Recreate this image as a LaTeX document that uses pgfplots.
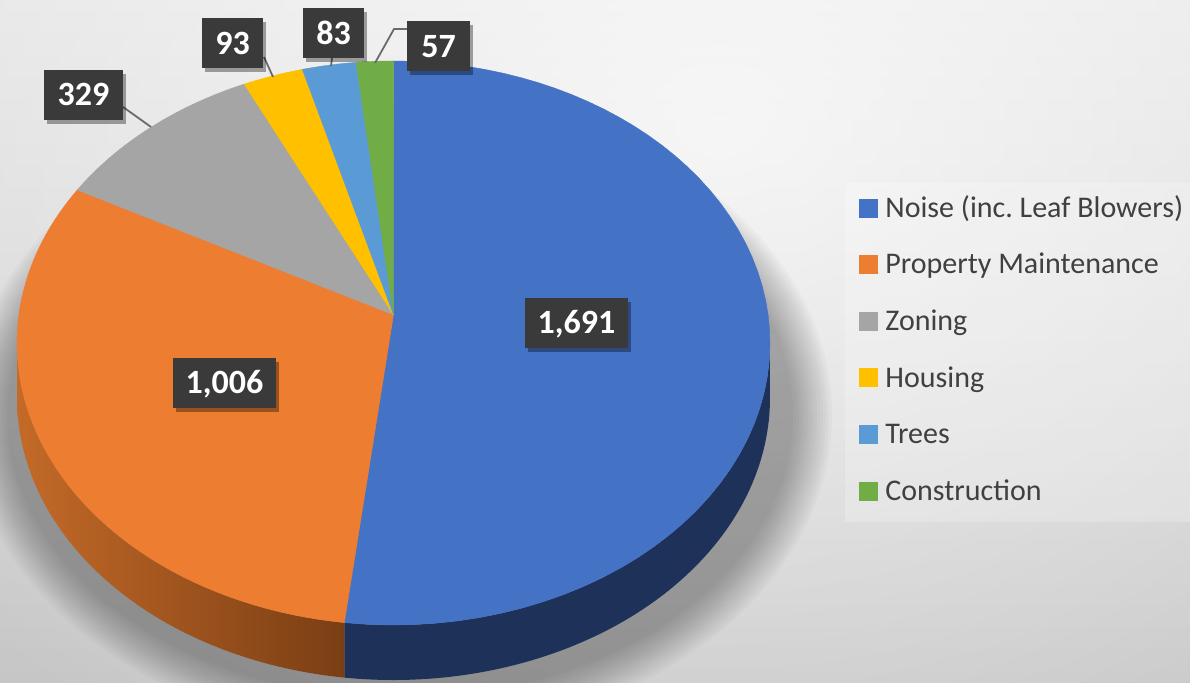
\documentclass[border=0pt]{standalone}
\usepackage{fontspec}
\setmainfont{Carlito}
\usepackage{pgfplots}
\pgfplotsset{compat=1.18}
\usepackage{pgfplotstable}
\usetikzlibrary{shadows,fadings}

\definecolor{cNoise}{HTML}{4472C4}
\definecolor{cProp}{HTML}{ED7D31}
\definecolor{cZon}{HTML}{A5A5A5}
\definecolor{cHous}{HTML}{FFC000}
\definecolor{cTree}{HTML}{5B9BD5}
\definecolor{cCons}{HTML}{70AD47}
\definecolor{sNoise}{HTML}{1E3158}
\definecolor{sPropL}{HTML}{C46A28}
\definecolor{sPropR}{HTML}{7A3E14}
\definecolor{lblbg}{HTML}{3A3A3A}
\definecolor{legtext}{HTML}{404040}
\definecolor{bgTop}{HTML}{E5E5E5}
\definecolor{bgBot}{HTML}{C6C6C6}
\definecolor{leader}{HTML}{6A6A6A}

\tikzfading[name=glow, inner color=transparent!0, outer color=transparent!100]

\tikzset{lbl/.style={fill=lblbg, text=white, font=\bfseries\fontsize{34}{40}\selectfont,
    inner xsep=0pt, inner ysep=0pt, minimum height=50pt, text height=21.5pt, text depth=0pt,
    drop shadow={shadow xshift=3pt, shadow yshift=-4pt, opacity=0.35, fill=black}}}

\pgfplotstableread{
cat value
Noise 1691
Property 1006
Zoning 329
Housing 93
Trees 83
Construction 57
}\complaints

% geometry of the pie in perspective (axis units = pt, y measured downward)
\def\cx{393.5}
\def\cy{314.8}
\def\rx{374.6}
\def\ry{279.2}
\def\kk{0.1}
\def\dd{55}

% top face of one slice, angles in degrees (lo < hi)
\newcommand\slice[3]{%
  \pgfmathsetmacro\hh{((#3)-(#2))/60}%
  \pgfmathsetmacro\dlo{(#2)-\hh}%
  \pgfmathsetmacro\dhi{(#3)+\hh}%
  \pgfmathsetmacro\tlo{(#2)-\hh/2}%
  \pgfmathsetmacro\thi{(#3)+\hh/2}%
  \addplot[fill=#1, draw=#1, line width=0.4pt, domain=\dlo:\dhi, samples=63, variable=\t, forget plot]
   ({((\t<(\tlo)) || (\t>(\thi))) ? \cx : \cx+\rx*cos(\t)/(1+\kk*sin(\t))},
    {((\t<(\tlo)) || (\t>(\thi))) ? \cy : \cy-\ry*sin(\t)/(1+\kk*sin(\t))});
}
% visible side band between angles #2 and #3
\newcommand\side[3]{%
  \addplot[#1, draw=none, domain=0:2, samples=161, variable=\t, forget plot]
   ({\cx+\rx*cos((\t<=1.0001) ? ((#2)+((#3)-(#2))*\t) : ((#3)-((#3)-(#2))*(\t-1)))
        /(1+\kk*sin((\t<=1.0001) ? ((#2)+((#3)-(#2))*\t) : ((#3)-((#3)-(#2))*(\t-1))))},
    {\cy-\ry*sin((\t<=1.0001) ? ((#2)+((#3)-(#2))*\t) : ((#3)-((#3)-(#2))*(\t-1)))
        /(1+\kk*sin((\t<=1.0001) ? ((#2)+((#3)-(#2))*\t) : ((#3)-((#3)-(#2))*(\t-1))))
        + ((\t<=1.0001) ? 0 : \dd)});
}

\begin{document}
\begin{tikzpicture}[x=1pt,y=1pt]
\pgfplotstablegetelem{0}{value}\of\complaints \let\vA\pgfplotsretval
\pgfplotstablegetelem{1}{value}\of\complaints \let\vB\pgfplotsretval
\pgfplotstablegetelem{2}{value}\of\complaints \let\vC\pgfplotsretval
\pgfplotstablegetelem{3}{value}\of\complaints \let\vD\pgfplotsretval
\pgfplotstablegetelem{4}{value}\of\complaints \let\vE\pgfplotsretval
\pgfplotstablegetelem{5}{value}\of\complaints \let\vF\pgfplotsretval
\pgfmathsetmacro\T{\vA+\vB+\vC+\vD+\vE+\vF}
\pgfmathsetmacro\aZ{90}
\pgfmathsetmacro\aA{\aZ-360*(\vA/\T)}
\pgfmathsetmacro\aB{\aA-360*(\vB/\T)}
\pgfmathsetmacro\aC{\aB-360*(\vC/\T)}
\pgfmathsetmacro\aD{\aC-360*(\vD/\T)}
\pgfmathsetmacro\aE{\aD-360*(\vE/\T)}
\pgfmathsetmacro\aF{\aE-360*(\vF/\T)}
\pgfmathsetmacro\sR{-asin(\kk)}
\pgfmathsetmacro\sL{-180+asin(\kk)}

\useasboundingbox (0,0) rectangle (1190,682);
\begin{scope}
\clip (0,0) rectangle (1190,682);
\shade[top color=bgTop, bottom color=bgBot] (0,0) rectangle (1190,682);
\fill[white, opacity=0.72, path fading=glow] (720,{682-130}) ellipse (1000 and 760);
\foreach \k in {0,...,13} {
  \fill[black, opacity=0.022] (400,{682-415}) ellipse ({432-3*\k} and {322-3*\k});
}
\fill[white, opacity=0.22] (845,{682-522}) rectangle (1190,{682-183});
\end{scope}

\begin{axis}[
  at={(0,0)}, anchor=south west, scale only axis,
  width=1190pt, height=682pt,
  xmin=0, xmax=1190, ymin=0, ymax=682, y dir=reverse,
  hide axis, clip=false,
  legend cell align=left,
  legend style={draw=none, fill=none, inner sep=0pt, outer sep=0pt,
    at={(axis cs:859,196.3)}, anchor=north west,
    font=\fontsize{30}{36}\selectfont, text=legtext,
    row sep=28.6pt, column sep=8pt,
    cells={anchor=base west},
    nodes={inner sep=0pt, outer sep=0pt, text height=21pt, text depth=7pt}},
]
% sides
\side{fill=sNoise}{\aA}{\sR}
\side{left color=sPropL, right color=sPropR}{\aA}{\sL}
% top faces
\slice{cNoise}{\aA}{\aZ}
\slice{cProp}{\aB}{\aA}
\slice{cZon}{\aC}{\aB}
\slice{cHous}{\aD}{\aC}
\slice{cTree}{\aE}{\aD}
\slice{cCons}{\aF}{\aE}

\addlegendimage{legend image code/.code={\fill[cNoise] (0pt,0.6pt) rectangle (18pt,18.6pt);}}
\addlegendentry{Noise (inc.\ Leaf Blowers)}
\addlegendimage{legend image code/.code={\fill[cProp] (0pt,0.6pt) rectangle (18pt,18.6pt);}}
\addlegendentry{Property Maintenance}
\addlegendimage{legend image code/.code={\fill[cZon] (0pt,0.6pt) rectangle (18pt,18.6pt);}}
\addlegendentry{Zoning}
\addlegendimage{legend image code/.code={\fill[cHous] (0pt,0.6pt) rectangle (18pt,18.6pt);}}
\addlegendentry{Housing}
\addlegendimage{legend image code/.code={\fill[cTree] (0pt,0.6pt) rectangle (18pt,18.6pt);}}
\addlegendentry{Trees}
\addlegendimage{legend image code/.code={\fill[cCons] (0pt,0.6pt) rectangle (18pt,18.6pt);}}
\addlegendentry{Construction}

% leader lines
\draw[leader, line width=1.8pt] (axis cs:123,107) -- (axis cs:151,127);
\draw[leader, line width=1.8pt] (axis cs:264,57) -- (axis cs:273,77);
\draw[leader, line width=1.8pt] (axis cs:332,58) -- (axis cs:331,66);
\draw[leader, line width=1.8pt] (axis cs:407,29) -- (axis cs:394,29) -- (axis cs:375,63);

% data labels
\node[lbl, minimum width=103pt] at (axis cs:576.5,323) {1,691};
\node[lbl, minimum width=103pt] at (axis cs:224.5,382.5) {1,006};
\node[lbl, minimum width=79pt] at (axis cs:83.5,95) {329};
\node[lbl, minimum width=61pt] at (axis cs:232.5,43.5) {93};
\node[lbl, minimum width=61pt] at (axis cs:333.5,33.5) {83};
\node[lbl, minimum width=63pt] at (axis cs:438.5,46.5) {57};
\end{axis}
\end{tikzpicture}
\end{document}
